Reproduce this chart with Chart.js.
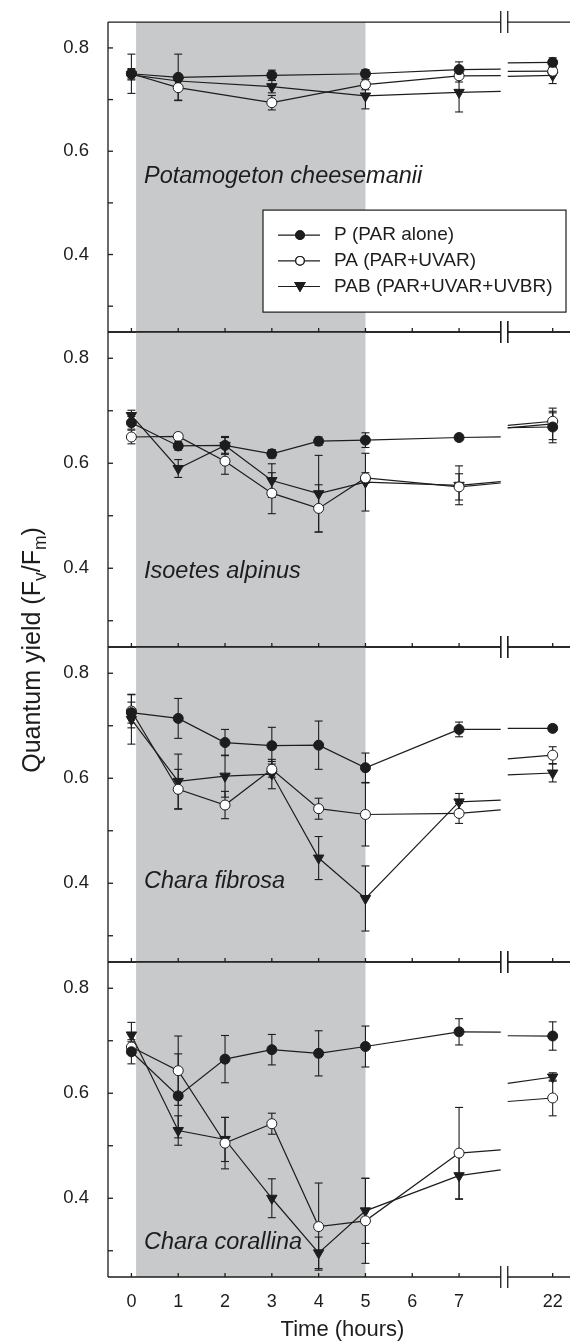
<!DOCTYPE html>
<html>
<head>
<meta charset="utf-8">
<script src="https://cdn.jsdelivr.net/npm/chart.js@4.4.1/dist/chart.umd.min.js"></script>
<style>
  body { margin: 0; background: #fff; }
  #wrap { position: relative; width: 577px; height: 1344px; overflow: hidden; font-family: 'Liberation Sans', Arial, sans-serif; color: #1d1d1d; }
  #wrap canvas { position: absolute; left: 0; top: 0; }
  #ytitle { position: absolute; left: -119px; top: 635px; width: 300px; height: 30px; line-height: 30px; font-size: 25px; text-align: center; white-space: nowrap; transform: rotate(-90deg); }
  #ytitle sub { font-size: 70%; line-height: 0; vertical-align: -0.35em; }
  #xtitle { position: absolute; left: 108px; width: 469px; top: 1318px; font-size: 22px; line-height: 1; text-align: center; white-space: nowrap; }
</style>
</head>
<body>
<div id="wrap">
  <canvas id="c0" width="577" height="1344"></canvas>
  <canvas id="c1" width="577" height="1344"></canvas>
  <canvas id="c2" width="577" height="1344"></canvas>
  <canvas id="c3" width="577" height="1344"></canvas>
  <div id="ytitle">Quantum yield (F<sub>v</sub>/F<sub>m</sub>)</div>
  <div id="xtitle">Time (hours)</div>
</div>
<script>
// --- data ---
const species = ['Potamogeton cheesemanii', 'Isoetes alpinus', 'Chara fibrosa', 'Chara corallina'];
const treatments = ['P (PAR alone)', 'PA (PAR+UVAR)', 'PAB (PAR+UVAR+UVBR)'];

const hoursPotamogeton = [0, 1, 3, 5, 7, 22];
const hoursOther = [0, 1, 2, 3, 4, 5, 7, 22];

// Potamogeton cheesemanii
const potP = [0.750, 0.743, 0.747, 0.750, 0.758, 0.772];
const potPA = [0.750, 0.723, 0.694, 0.729, 0.746, 0.755];
const potPAB = [0.748, 0.736, 0.725, 0.707, 0.714, 0.747];
const potPErr = [0.038, 0.045, 0.010, 0.008, 0.015, 0.009];
const potPAErr = [0.010, 0.024, 0.014, 0.010, 0.012, 0.008];
const potPABErr = [0.010, 0.010, 0.012, 0.025, 0.038, 0.016];

// Isoetes alpinus
const isoP = [0.677, 0.633, 0.634, 0.618, 0.642, 0.644, 0.649, 0.669];
const isoPA = [0.650, 0.651, 0.604, 0.543, 0.514, 0.572, 0.555, 0.680];
const isoPAB = [0.691, 0.590, 0.634, 0.567, 0.542, 0.564, 0.558, 0.675];
const isoPErr = [0.012, 0.008, 0.015, 0.008, 0.008, 0.014, 0.006, 0.030];
const isoPAErr = [0.013, 0.006, 0.025, 0.039, 0.045, 0.010, 0.025, 0.016];
const isoPABErr = [0.010, 0.017, 0.017, 0.032, 0.073, 0.055, 0.037, 0.030];

// Chara fibrosa
const fibP = [0.725, 0.714, 0.668, 0.662, 0.663, 0.620, 0.693, 0.695];
const fibPA = [0.728, 0.579, 0.549, 0.617, 0.542, 0.531, 0.533, 0.644];
const fibPAB = [0.712, 0.594, 0.604, 0.608, 0.448, 0.371, 0.555, 0.610];
const fibPErr = [0.020, 0.038, 0.025, 0.035, 0.046, 0.028, 0.014, 0.006];
const fibPAErr = [0.032, 0.038, 0.026, 0.015, 0.020, 0.060, 0.019, 0.016];
const fibPABErr = [0.047, 0.052, 0.040, 0.028, 0.041, 0.062, 0.016, 0.017];

// Chara corallina
const corP = [0.679, 0.595, 0.665, 0.683, 0.676, 0.689, 0.717, 0.709];
const corPA = [0.688, 0.643, 0.505, 0.542, 0.346, 0.357, 0.486, 0.591];
const corPAB = [0.711, 0.529, 0.512, 0.400, 0.296, 0.376, 0.443, 0.631];
const corPErr = [0.023, 0.080, 0.045, 0.029, 0.043, 0.039, 0.025, 0.027];
const corPAErr = [0.010, 0.066, 0.049, 0.020, 0.083, 0.081, 0.087, 0.034];
const corPABErr = [0.024, 0.028, 0.042, 0.037, 0.030, 0.062, 0.045, 0.008];

const exposureHours = [0.1, 5];          // grey band (UV exposure)
const xTickHours = [0, 1, 2, 3, 4, 5, 6, 7, 22];
const yTickValues = [0.3, 0.4, 0.5, 0.6, 0.7, 0.8];
const yTickLabels = ['', '0.4', '', '0.6', '', '0.8'];

const panels = [
  {name: species[0], hours: hoursPotamogeton, series: [potP, potPA, potPAB], errors: [potPErr, potPAErr, potPABErr]},
  {name: species[1], hours: hoursOther, series: [isoP, isoPA, isoPAB], errors: [isoPErr, isoPAErr, isoPABErr]},
  {name: species[2], hours: hoursOther, series: [fibP, fibPA, fibPAB], errors: [fibPErr, fibPAErr, fibPABErr]},
  {name: species[3], hours: hoursOther, series: [corP, corPA, corPAB], errors: [corPErr, corPAErr, corPABErr]},
];

// --- layout / style ---
const FONT = "'Liberation Sans', Arial, sans-serif";
const INK = '#1d1d1d';
const SHADE = '#c8c9cb';
const CANVAS_H = 1344;
const PLOT_TOP = 17;
const PANEL_H = 315;
const Y_AXIS_W = 108;
const X_AXIS_H = 67;
const X_MIN = -0.5, X_MAX = 9.37;
const BREAK_HOURS = [7.89, 21.04];       // axis is cut between these
const CUT_HOURS = 13;                    // hours removed by the break
const speciesBaseline = [161, 246, 241, 287];

Chart.defaults.font.family = FONT;
Chart.defaults.color = INK;

// hours after the break are pulled left so 22 h sits just past 7 h
function toAxis(h) { return h > 8 ? h - CUT_HOURS : h; }

const markers = [
  {style: 'circle', r: 5, rot: 0, fill: INK},
  {style: 'circle', r: 5, rot: 0, fill: '#fff'},
  {style: 'triangle', r: 6, rot: 180, fill: INK},
];

function seg(ctx, x0, y0, x1, y1) {
  ctx.beginPath(); ctx.moveTo(x0, y0); ctx.lineTo(x1, y1); ctx.stroke();
}

const panelDecor = {
  id: 'panelDecor',
  beforeDatasetsDraw(chart, args, opts) {
    const {ctx, chartArea: a, scales: {x, y}} = chart;
    const p = panels[opts.index];
    ctx.save();
    // grey exposure band
    const s0 = x.getPixelForValue(toAxis(exposureHours[0]));
    const s1 = x.getPixelForValue(toAxis(exposureHours[1]));
    ctx.fillStyle = SHADE;
    ctx.fillRect(s0, a.top, s1 - s0, a.bottom - a.top);

    ctx.strokeStyle = INK;
    ctx.lineWidth = 1.3;
    // frame with axis break
    const bx0 = x.getPixelForValue(toAxis(BREAK_HOURS[0]));
    const bx1 = x.getPixelForValue(toAxis(BREAK_HOURS[1]));
    for (const yy of [a.top, a.bottom]) {
      seg(ctx, a.left, yy, bx0, yy);
      seg(ctx, bx1, yy, a.right, yy);
      seg(ctx, bx0, yy - 11, bx0, yy + 11);
      seg(ctx, bx1, yy - 11, bx1, yy + 11);
    }
    seg(ctx, a.left, a.top, a.left, a.bottom);
    // inward ticks
    y.ticks.forEach(t => {
      const py = y.getPixelForValue(t.value);
      seg(ctx, a.left, py, a.left + 5, py);
    });
    xTickHours.forEach(h => {
      const px = x.getPixelForValue(toAxis(h));
      seg(ctx, px, a.bottom, px, a.bottom - 4);
    });

    // error bars
    ctx.lineWidth = 1.1;
    p.series.forEach((vals, k) => {
      p.errors[k].forEach((e, j) => {
        const px = x.getPixelForValue(toAxis(p.hours[j]));
        const yt = y.getPixelForValue(vals[j] + e);
        const yb = y.getPixelForValue(vals[j] - e);
        seg(ctx, px, yt, px, yb);
        seg(ctx, px - 4, yt, px + 4, yt);
        seg(ctx, px - 4, yb, px + 4, yb);
      });
    });

    // last interval drawn in real time, cut by the axis break
    ctx.lineWidth = 1.2;
    p.series.forEach(vals => {
      const n = p.hours.length;
      const h0 = p.hours[n - 2], h1 = p.hours[n - 1];
      const v0 = vals[n - 2], v1 = vals[n - 1];
      const at = h => v0 + (v1 - v0) * (h - h0) / (h1 - h0);
      seg(ctx, x.getPixelForValue(toAxis(h0)), y.getPixelForValue(v0),
        x.getPixelForValue(toAxis(BREAK_HOURS[0])), y.getPixelForValue(at(BREAK_HOURS[0])));
      seg(ctx, x.getPixelForValue(toAxis(BREAK_HOURS[1])), y.getPixelForValue(at(BREAK_HOURS[1])),
        x.getPixelForValue(toAxis(h1)), y.getPixelForValue(v1));
    });
    ctx.restore();
  },
  afterDatasetsDraw(chart, args, opts) {
    const {ctx, chartArea: a} = chart;
    const i = opts.index;
    ctx.save();
    ctx.fillStyle = INK;
    ctx.font = 'italic 23.5px ' + FONT;
    ctx.textBaseline = 'alphabetic';
    ctx.fillText(panels[i].name, a.left + 36, a.top + speciesBaseline[i]);

    if (i === 0) {
      // legend box
      const bx = 263, by = a.top + 188, bw = 303, bh = 102;
      ctx.fillStyle = '#fff';
      ctx.fillRect(bx, by, bw, bh);
      ctx.strokeStyle = INK;
      ctx.lineWidth = 1.2;
      ctx.strokeRect(bx, by, bw, bh);
      ctx.font = '19px ' + FONT;
      ctx.textBaseline = 'middle';
      treatments.forEach((t, k) => {
        const ry = by + 25 + k * 25.7;
        seg(ctx, 278, ry, 320, ry);
        const m = markers[k];
        Chart.helpers.drawPoint(ctx, {
          pointStyle: m.style, radius: m.style === 'triangle' ? 5.6 : 4.3, rotation: m.rot, borderWidth: 1
        }, 300, ry + (m.style === 'triangle' ? -1 : 0));
        ctx.fillStyle = m.fill;
        ctx.fill();
        ctx.stroke();
        ctx.fillStyle = INK;
        ctx.fillText(t, 334, ry);
      });
    }
    ctx.restore();
  }
};

function makeChart(i) {
  const p = panels[i];
  const top = PLOT_TOP + i * PANEL_H;
  const isLast = i === panels.length - 1;
  const bottomPad = isLast ? 0 : CANVAS_H - (top + PANEL_H);
  const datasets = p.series.map((vals, k) => ({
    label: treatments[k],
    data: p.hours.map((h, j) => ({x: toAxis(h), y: vals[j]})),
    borderColor: INK,
    borderWidth: 1.2,
    pointStyle: markers[k].style,
    pointRadius: markers[k].r,
    pointRotation: markers[k].rot,
    pointBackgroundColor: markers[k].fill,
    pointBorderColor: INK,
    pointBorderWidth: 1,
    segment: {borderColor: c => (c.p1.parsed.x > toAxis(BREAK_HOURS[0]) ? 'rgba(0,0,0,0)' : undefined)},
  }));

  return new Chart(document.getElementById('c' + i), {
    type: 'line',
    data: {datasets},
    options: {
      responsive: false,
      animation: false,
      layout: {padding: {top: top, bottom: bottomPad, left: 0, right: 0}},
      plugins: {legend: {display: false}, tooltip: {enabled: false}, panelDecor: {index: i}},
      scales: {
        x: {
          type: 'linear', min: X_MIN, max: X_MAX, display: isLast,
          afterBuildTicks: s => { s.ticks = xTickHours.map(h => ({value: toAxis(h)})); },
          afterFit: s => { s.height = isLast ? X_AXIS_H : 0; },
          grid: {display: false}, border: {display: false},
          ticks: {padding: 6, color: INK, maxRotation: 0, autoSkip: false, font: {size: 18},
            callback: (v, idx) => String(xTickHours[idx])}
        },
        y: {
          type: 'linear', min: 0.25, max: 0.85,
          afterBuildTicks: s => { s.ticks = yTickValues.map(v => ({value: v})); },
          afterFit: s => { s.width = Y_AXIS_W; },
          grid: {display: false}, border: {display: false},
          ticks: {padding: 11, color: INK, font: {size: 18.5}, callback: (v, idx) => yTickLabels[idx]}
        }
      }
    },
    plugins: [panelDecor]
  });
}

panels.forEach((p, i) => makeChart(i));
</script>
</body>
</html>
